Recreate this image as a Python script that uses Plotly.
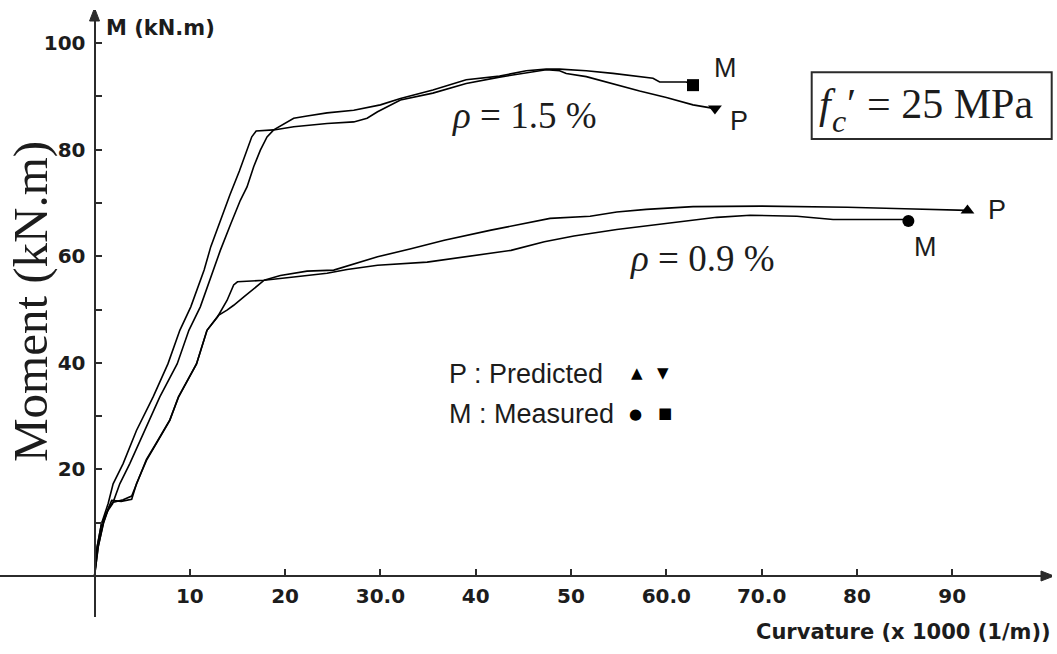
import plotly.graph_objects as go

# Moment-curvature responses, curvature in x1000 (1/m), moment in kN.m
# rho = 1.5 %, predicted
k15_pred = [0, 0.27, 0.73, 1.43, 1.95, 3.0, 4.4, 6.15, 7.7, 8.95, 10.1, 11.5, 12.2, 13.2,
            14.2, 15.2, 16.0, 16.5, 16.96, 18.8, 20.9, 24.4, 27.2, 28.6, 29.7, 32.1,
            35.5, 39.0, 42.5, 45.3, 47.4, 48.8, 49.5, 51.6, 54.4, 57.2, 60.0, 62.8, 65.1]
m15_pred = [0, 5.4, 9.8, 13.6, 17.3, 21.1, 27.3, 33.6, 39.8, 46.1, 50.5, 57.4, 61.8, 66.8,
            71.5, 76.0, 79.9, 82.4, 83.5, 83.7, 84.3, 84.9, 85.2, 85.9, 87.1, 89.3,
            90.6, 92.4, 93.6, 94.4, 95.0, 94.8, 94.3, 93.7, 92.3, 91.0, 89.8, 88.4, 87.7]

# rho = 1.5 %, measured
k15_meas = [0, 0.27, 0.73, 1.3, 1.9, 2.65, 3.7, 5.28, 6.85, 8.67, 9.9, 11.1, 12.5, 13.2,
            14.3, 15.3, 16.0, 16.7, 17.4, 18.1, 18.8, 20.9, 22.3, 24.4, 27.2, 30.0, 32.1,
            35.5, 39.0, 42.5, 45.3, 47.4, 48.8, 51.6, 54.4, 58.6, 59.3, 62.1, 62.8]
m15_meas = [0, 5.4, 9.8, 12.0, 13.6, 17.3, 21.1, 27.3, 33.6, 39.8, 46.1, 50.5, 57.4, 61.1,
            66.1, 70.5, 73.0, 76.8, 79.9, 82.4, 83.7, 85.9, 86.3, 86.9, 87.4, 88.4, 89.6,
            91.2, 93.1, 93.8, 94.8, 95.1, 95.1, 94.8, 94.3, 93.4, 92.7, 92.7, 92.1]

# rho = 0.9 %, predicted
k09_pred = [0, 0.37, 0.9, 1.4, 1.8, 2.8, 3.9, 4.4, 5.45, 6.5, 7.9, 8.8, 10.7, 11.8, 13.0,
            13.9, 14.6, 15.7, 16.7, 17.8, 19.5, 22.3, 25.1, 27.2, 29.7, 33.2, 36.7, 41.6,
            47.8, 52.0, 54.8, 57.9, 62.8, 70.0, 79.0, 85.0, 91.6]
m09_pred = [0, 5.4, 9.8, 12.5, 14.2, 14.0, 14.4, 17.3, 21.7, 24.8, 29.2, 33.6, 39.8, 46.1,
            48.9, 49.9, 50.8, 52.4, 53.9, 55.5, 56.4, 57.2, 57.4, 58.6, 59.9, 61.4, 63.0,
            64.9, 67.1, 67.5, 68.3, 68.8, 69.3, 69.4, 69.2, 68.9, 68.6]

# rho = 0.9 %, measured
k09_meas = [0, 0.4, 0.95, 1.5, 1.9, 3.0, 3.9, 4.5, 5.45, 6.5, 7.9, 8.8, 10.7, 11.8, 12.9,
            13.9, 14.6, 15.0, 17.8, 20.9, 24.4, 26.5, 29.7, 34.9, 38.4, 43.7, 47.2, 50.3,
            54.8, 58.3, 61.8, 65.3, 68.8, 73.7, 77.5, 84.9, 85.4]
m09_meas = [0, 5.6, 10.0, 12.8, 13.8, 14.3, 15.0, 17.8, 21.9, 25.0, 29.3, 33.5, 39.8, 46.1,
            48.6, 51.7, 54.6, 55.2, 55.5, 56.1, 56.8, 57.5, 58.3, 58.9, 59.8, 61.1, 62.7,
            63.8, 65.0, 65.8, 66.6, 67.3, 67.7, 67.5, 66.9, 66.9, 66.6]

x_tick_vals = [10, 20, 30, 40, 50, 60, 70, 80, 90]
x_tick_text = ["10", "20", "30.0", "40", "50", "60.0", "70.0", "80", "90"]
y_tick_vals = [20, 40, 60, 80, 100]
y_tick_text = ["20", "40", "60", "80", "100"]
y_minor_vals = [10, 30, 50, 70, 90]

W, H = 1057, 654
X_RANGE = [-9.92, 100.47]
Y_RANGE = [-7.69, 106.2]
AXIS_COLOR = "#2b2b2b"
TEXT_COLOR = "#1c1c1c"
SANS_BOLD = dict(family="DejaVu Sans", size=20, color=TEXT_COLOR, weight="bold")


def px(x):
    return x / W


def py(y):
    return 1 - y / H


def label(x, y, text, font, xanchor="center", **kw):
    fig.add_annotation(x=px(x), y=py(y), xref="paper", yref="paper", text=text,
                       showarrow=False, xanchor=xanchor, yanchor="middle", font=font, **kw)


fig = go.Figure()

curves = [
    (k15_pred, m15_pred, "triangle-down", "P", 24, -12),
    (k15_meas, m15_meas, "square", "M", 32, 17),
    (k09_pred, m09_pred, "triangle-up", "P", 30, 0),
    (k09_meas, m09_meas, "circle", "M", 17, -26),
]

for k, m, sym, tag, dx, dy in curves:
    fig.add_trace(go.Scatter(x=k, y=m, mode="lines",
                             line=dict(color="black", width=1.6),
                             hoverinfo="skip", showlegend=False))
    fig.add_trace(go.Scatter(x=[k[-1]], y=[m[-1]], mode="markers",
                             marker=dict(symbol=sym, size=12, color="black"),
                             hoverinfo="skip", showlegend=False))
    fig.add_annotation(x=k[-1], y=m[-1], xref="x", yref="y", text=tag,
                       showarrow=False, xshift=dx, yshift=dy,
                       xanchor="center", yanchor="middle",
                       font=dict(family="Liberation Sans", size=27, color=TEXT_COLOR))

fig.update_xaxes(range=X_RANGE, domain=[0, 1052 / W], anchor="free", position=py(576),
                 showline=True, linecolor=AXIS_COLOR, linewidth=2,
                 ticks="inside", ticklen=6, tickwidth=2, tickcolor=AXIS_COLOR,
                 tickmode="array", tickvals=x_tick_vals, ticktext=x_tick_text,
                 tickfont=SANS_BOLD, ticklabelstandoff=2,
                 showgrid=False, zeroline=False, automargin=False, fixedrange=True)
fig.update_yaxes(range=Y_RANGE, domain=[py(617), py(10)], anchor="free", position=px(94.5),
                 showline=True, linecolor=AXIS_COLOR, linewidth=2,
                 ticks="inside", ticklen=6, tickwidth=2, tickcolor=AXIS_COLOR,
                 tickmode="array", tickvals=y_tick_vals, ticktext=y_tick_text,
                 minor=dict(tickmode="array", tickvals=y_minor_vals, ticks="inside",
                            ticklen=6, tickwidth=2, tickcolor=AXIS_COLOR, showgrid=False),
                 tickfont=SANS_BOLD, ticklabelstandoff=4,
                 showgrid=False, zeroline=False, automargin=False, fixedrange=True)

# axis arrowheads, sized in pixels at the ends of both axes
fig.add_shape(type="path", xref="x", yref="y", xsizemode="pixel", ysizemode="pixel",
              xanchor=X_RANGE[1], yanchor=0, path="M 2 0 L -11 5 L -11 -5 Z",
              fillcolor=AXIS_COLOR, line=dict(color=AXIS_COLOR, width=1))
fig.add_shape(type="path", xref="x", yref="y", xsizemode="pixel", ysizemode="pixel",
              xanchor=0, yanchor=Y_RANGE[1], path="M 0 2 L -5 -11 L 5 -11 Z",
              fillcolor=AXIS_COLOR, line=dict(color=AXIS_COLOR, width=1))

# axis titles
label(1053, 632, "Curvature (x 1000 (1/m))",
      dict(family="DejaVu Sans", size=21, color=TEXT_COLOR, weight="bold"), xanchor="right")
label(104, 28, "M (kN.m)",
      dict(family="DejaVu Sans", size=21, color=TEXT_COLOR, weight="bold"), xanchor="left")
label(30, 302, "Moment (kN.m)",
      dict(family="Liberation Serif", size=49, color=TEXT_COLOR), textangle=-90)

# reinforcement ratio labels
SERIF = dict(family="Liberation Serif", size=37, color=TEXT_COLOR)
label(524, 116, "<i>ρ</i> = 1.5 %", SERIF)
label(702, 258, "<i>ρ</i> = 0.9 %", SERIF)

# concrete strength box: f, subscript c, prime and value set side by side
fig.add_shape(type="rect", xref="paper", yref="paper",
              x0=px(811.7), x1=px(1051.7), y0=py(139), y1=py(72.3),
              line=dict(color=AXIS_COLOR, width=2), fillcolor="rgba(0,0,0,0)")
BOX_FONT = dict(family="Liberation Serif", size=42, color=TEXT_COLOR)
label(818, 104, "<i>f</i>", BOX_FONT, xanchor="left", borderpad=0)
label(831, 121, "<i>c</i>", dict(family="Liberation Serif", size=32, color=TEXT_COLOR),
      xanchor="left", borderpad=0)
label(846, 104, "′", BOX_FONT, xanchor="left", borderpad=0)
label(866, 104, "= 25 MPa", BOX_FONT, xanchor="left", borderpad=0)

# symbol key
KEY_FONT = dict(family="Liberation Sans", size=27, color=TEXT_COLOR)
GLYPH_FONT = dict(family="DejaVu Sans", size=15, color="black")
label(447, 374, "P : Predicted", KEY_FONT, xanchor="left")
label(447, 414, "M : Measured", KEY_FONT, xanchor="left")
for gx, gy, g in [(636.7, 373, "▲"), (663.3, 373, "▼"), (635, 414, "●"), (665, 413, "■")]:
    label(gx, gy, g, GLYPH_FONT)

fig.update_layout(width=W, height=H, margin=dict(l=0, r=0, t=0, b=0),
                  paper_bgcolor="white", plot_bgcolor="white", showlegend=False)

fig.write_html("out.html")
